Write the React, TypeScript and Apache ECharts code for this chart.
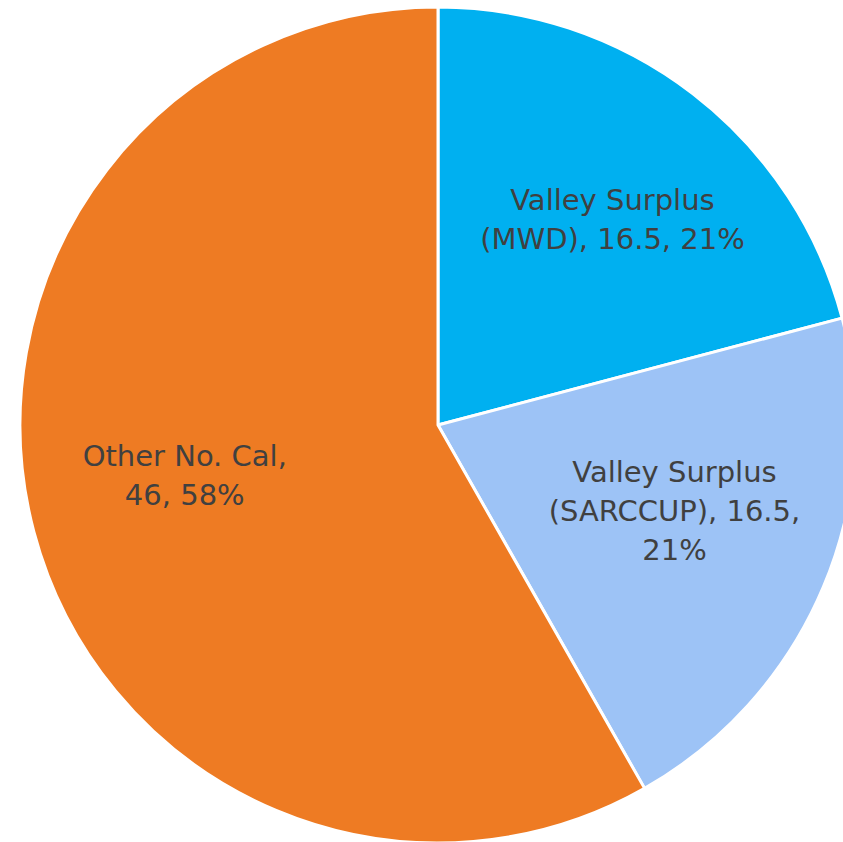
import React, { useEffect, useRef } from "react";
import * as echarts from "echarts";

const categories = ["Valley Surplus (MWD)", "Valley Surplus (SARCCUP)", "Other No. Cal"];
const values = [16.5, 16.5, 46];
const colors = ["#00B0F0", "#9DC3F6", "#EE7B23"];
// max characters per wrapped label line
const labelWrap = [20, 17, 14];
// small label nudges [dx, dy]
const labelNudges = [[14, 3], [-6, -16], [1, -17]];

function wrap(text: string, max: number): string {
  const words = text.split(" ");
  const lines: string[] = [];
  let cur = "";
  for (const w of words) {
    const next = cur ? cur + " " + w : w;
    if (next.length > max && cur) {
      lines.push(cur);
      cur = w;
    } else {
      cur = next;
    }
  }
  if (cur) lines.push(cur);
  return lines.join("\n");
}

export default function App() {
  const ref = useRef<HTMLDivElement>(null);
  useEffect(() => {
    document.body.style.margin = "0";
    const chart = echarts.init(ref.current!, null, { renderer: "svg" });
    const data = categories.map((name, i) => ({
      name,
      value: values[i],
      itemStyle: { color: colors[i] },
    }));
    chart.setOption({
      animation: false,
      backgroundColor: "#ffffff",
      series: [
        {
          type: "pie",
          center: [438, 425],
          radius: [0, 418],
          startAngle: 90,
          clockwise: true,
          silent: true,
          data,
          itemStyle: { borderColor: "#ffffff", borderWidth: 3 },
          label: { show: false },
          labelLine: { show: false },
        },
        {
          type: "pie",
          center: [438, 425],
          radius: [0, 520],
          startAngle: 90,
          clockwise: true,
          silent: true,
          data: categories.map((name, i) => ({ name, value: values[i] })),
          itemStyle: { color: "rgba(0,0,0,0)" },
          label: {
            show: true,
            position: "inside",
            formatter: (p: any) =>
              wrap(`${p.name}, ${p.value}, ${Math.round(p.percent)}%`, labelWrap[p.dataIndex]),
            fontFamily: "DejaVu Sans",
            fontSize: 29,
            lineHeight: 39,
            color: "#404040",
            align: "center",
          },
          labelLayout: (params: any) => ({
            dx: labelNudges[params.dataIndex][0],
            dy: labelNudges[params.dataIndex][1],
          }),
          labelLine: { show: false },
        },
      ],
    });
    return () => chart.dispose();
  }, []);
  return <div ref={ref} style={{ position: "fixed", left: 0, top: 0, width: 843, height: 842 }} />;
}
